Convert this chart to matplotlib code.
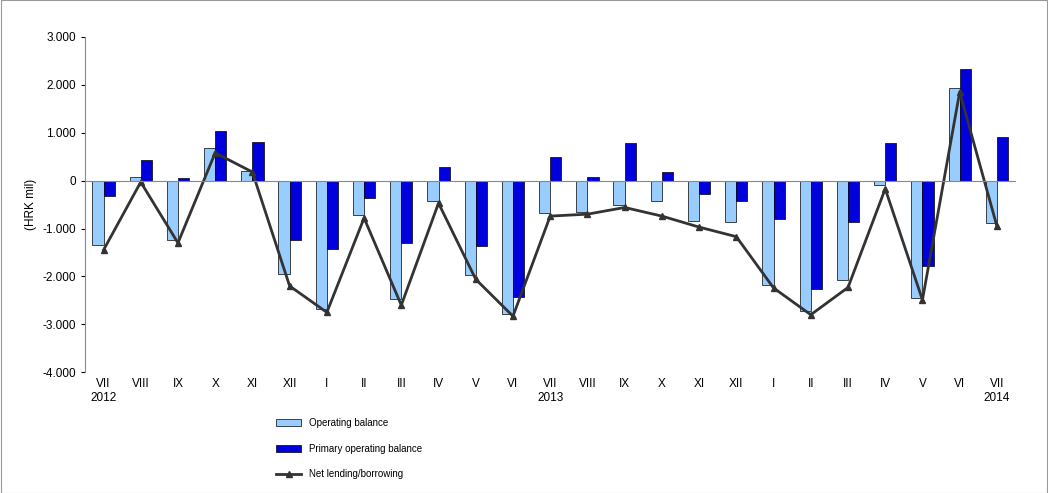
import numpy as np
import matplotlib.pyplot as plt
from matplotlib.ticker import FuncFormatter

plt.rcParams['font.family'] = ['Liberation Sans', 'DejaVu Sans']

months = ['VII', 'VIII', 'IX', 'X', 'XI', 'XII', 'I', 'II', 'III', 'IV', 'V', 'VI',
          'VII', 'VIII', 'IX', 'X', 'XI', 'XII', 'I', 'II', 'III', 'IV', 'V', 'VI', 'VII']
years = {0: '2012', 12: '2013', 24: '2014'}
operating = [-1350, 80, -1230, 680, 200, -1950, -2680, -720, -2480, -430, -1980, -2780,
             -680, -650, -500, -430, -850, -870, -2170, -2720, -2080, -100, -2450, 1930, -880]
primary = [-330, 430, 50, 1030, 800, -1230, -1430, -370, -1300, 280, -1370, -2420,
           500, 80, 780, 180, -280, -420, -800, -2270, -870, 790, -1780, 2330, 920]
net = [-1450, -30, -1300, 580, 180, -2200, -2750, -780, -2600, -470, -2060, -2830,
       -740, -700, -560, -740, -970, -1170, -2240, -2800, -2230, -170, -2490, 1850, -950]

fig = plt.figure(figsize=(10.48, 4.93), dpi=100)
fig.patches.append(plt.Rectangle((0.001, 0.001), 0.998, 0.998, transform=fig.transFigure,
                                 fill=False, edgecolor='#999999', lw=0.8))
ax = fig.add_axes([0.081, 0.245, 0.888, 0.68])
x = np.arange(len(months))
w = 0.3
b1 = ax.bar(x - w / 2, operating, w, color='#99ccff', edgecolor='black', lw=0.5, label='Operating balance')
b2 = ax.bar(x + w / 2, primary, w, color='#0000dd', edgecolor='black', lw=0.5, label='Primary operating balance')
l1, = ax.plot(x, net, color='#333333', lw=2, marker='^', ms=5, label='Net lending/borrowing')
ax.axhline(0, color='#888888', lw=0.8)
ax.set_xlim(-0.5, len(months) - 0.5)
ax.set_ylim(-4000, 3000)
ax.set_yticks(range(-4000, 3001, 1000))
ax.yaxis.set_major_formatter(FuncFormatter(lambda v, p: f'{int(v):,}'.replace(',', '.')))
ax.set_xticks(x)
ax.set_xticklabels([m + ('\n' + years[i] if i in years else '') for i, m in enumerate(months)])
ax.tick_params(axis='x', length=0, labelsize=8.5, pad=4)
ax.tick_params(axis='y', labelsize=8.5, length=3)
for s in ['top', 'right', 'bottom']:
    ax.spines[s].set_visible(False)
ax.spines['left'].set_color('#888888')
ax.set_ylabel('(HRK mil)', fontsize=8.5)
fig.legend(handles=[b1, b2, l1], loc='lower left', bbox_to_anchor=(0.255, 0.01), ncol=1,
           frameon=False, fontsize=7, labelspacing=1.6, handlelength=2.6)
fig.savefig('out.png', dpi=100)
